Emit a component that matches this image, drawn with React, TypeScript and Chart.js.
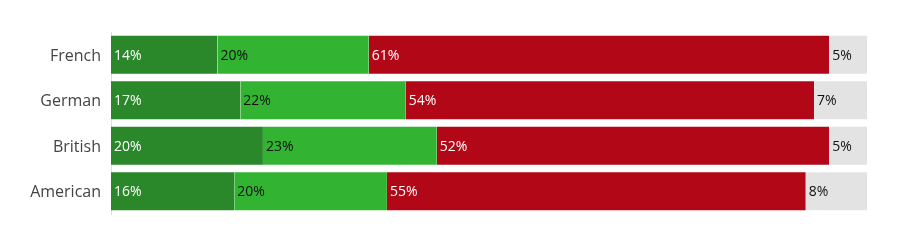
import React, { useEffect, useRef } from "react";
import { Chart, registerables } from "chart.js";

Chart.register(...registerables);

const categories = ["French", "German", "British", "American"];
const seriesA = [14.1, 17.1, 20.1, 16.3];
const seriesB = [20.0, 21.9, 23.0, 20.2];
const seriesC = [60.9, 54.0, 51.9, 55.4];
const seriesD = [5.0, 7.0, 5.0, 8.1];

const colors = ["#2a872a", "#32b432", "#b20716", "#e3e3e3"];
const textColors = ["#ffffff", "#111111", "#ffffff", "#111111"];

const labelPlugin = {
  id: "segLabels",
  afterDatasetsDraw(chart: any) {
    const ctx = chart.ctx;
    ctx.save();
    ctx.font = "14px 'Open Sans'";
    ctx.textAlign = "left";
    ctx.textBaseline = "middle";
    chart.data.datasets.forEach((ds: any, di: number) => {
      const meta = chart.getDatasetMeta(di);
      meta.data.forEach((bar: any, i: number) => {
        const left = Math.min(bar.base, bar.x);
        ctx.fillStyle = textColors[di];
        ctx.fillText(Math.round(ds.data[i]) + "%", left + 3, bar.y + 1);
      });
    });
    ctx.restore();
  },
};

export default function App() {
  const ref = useRef<HTMLCanvasElement | null>(null);
  useEffect(() => {
    document.body.style.margin = "0";
    const series = [seriesA, seriesB, seriesC, seriesD];
    const chart = new Chart(ref.current as HTMLCanvasElement, {
      type: "bar",
      data: {
        labels: categories,
        datasets: series.map((d, i) => ({
          label: "s" + i,
          data: d,
          backgroundColor: colors[i],
          borderColor: "rgba(255,255,255,0.3)",
          borderWidth: { top: 1, bottom: 1, left: 0, right: 0 },
          borderSkipped: false,
          barPercentage: 0.88,
          categoryPercentage: 1,
        })),
      },
      options: {
        indexAxis: "y",
        responsive: false,
        animation: false,
        layout: { padding: { left: 0, right: 40, top: 32, bottom: 30 } },
        plugins: { legend: { display: false }, tooltip: { enabled: false } },
        scales: {
          x: { stacked: true, min: 0, max: 100, display: false },
          y: {
            stacked: true,
            grid: { display: false, drawTicks: false },
            border: { display: true, color: "#dddddd", width: 1 },
            ticks: {
              padding: 10,
              labelOffset: 1.5,
              color: "#444444",
              font: { family: "'Open Sans'", size: 16 },
            },
            afterFit: (scale: any) => {
              scale.width = 111;
            },
          },
        },
      },
      plugins: [labelPlugin],
    });
    return () => chart.destroy();
  }, []);
  return (
    <div style={{ width: 907, height: 244, background: "#fff" }}>
      <canvas ref={ref} width={907} height={244} />
    </div>
  );
}
